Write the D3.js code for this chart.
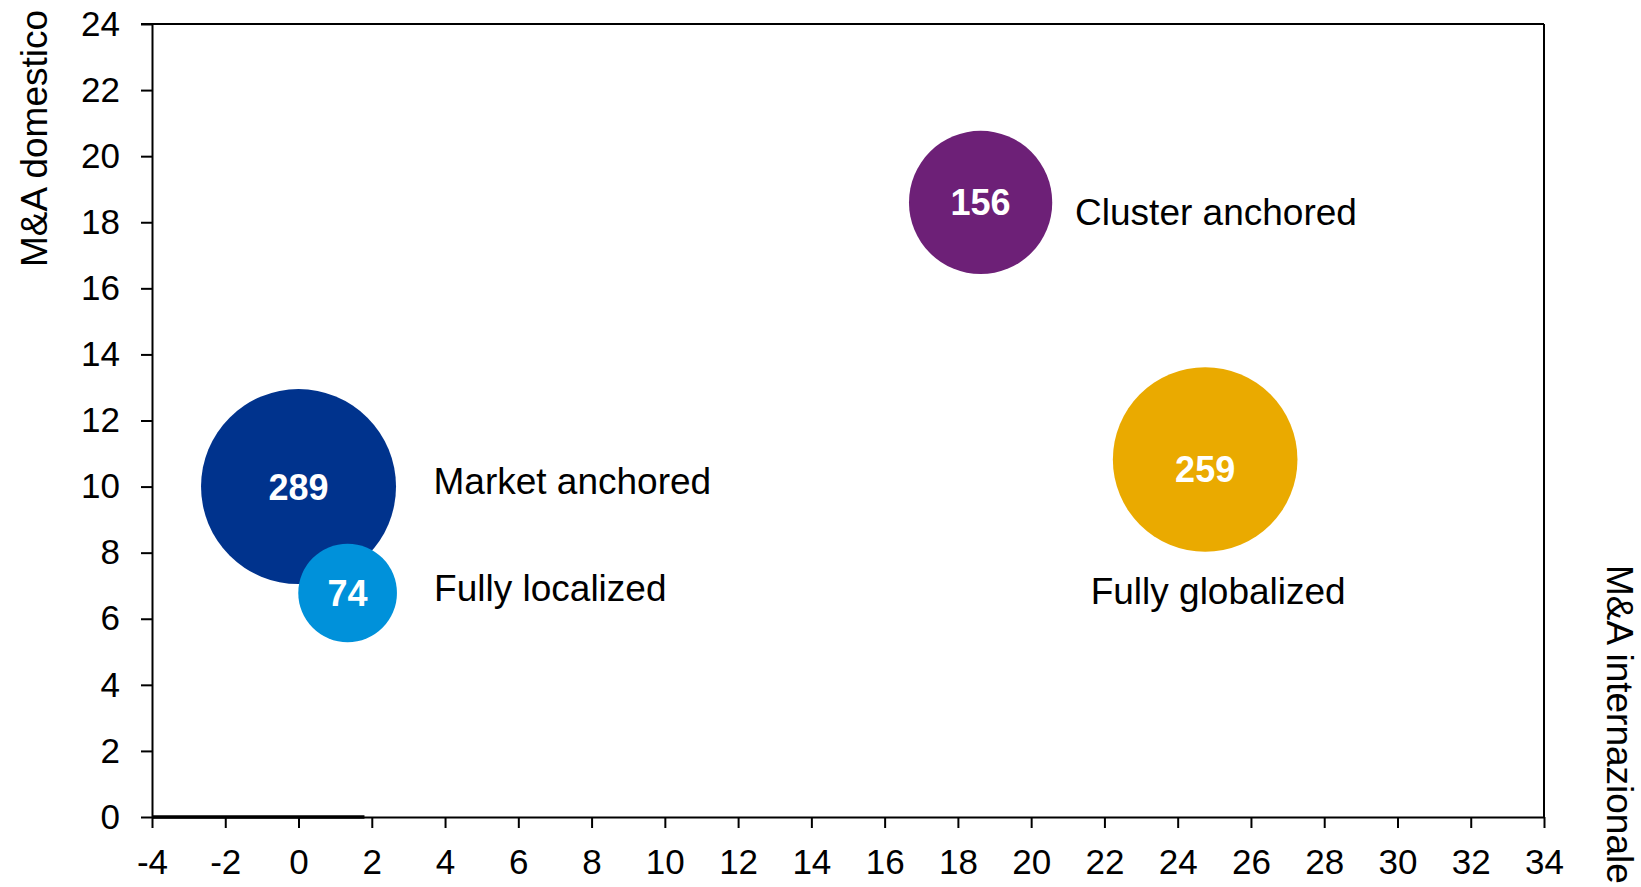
<!DOCTYPE html>
<html>
<head>
<meta charset="utf-8">
<script src="https://cdn.jsdelivr.net/npm/d3@7"></script>
<style>
  body { margin: 0; background: white; }
  text { font-family: "Liberation Sans", Arial, sans-serif; }
</style>
</head>
<body>
<div id="chart"></div>
<script>
// bubble data
const names = ["Market anchored", "Fully localized", "Cluster anchored", "Fully globalized"];
const xValues = [0, 1.34, 18.62, 24.75];
const yValues = [10, 6.78, 18.6, 10.82];
const sizes = [289, 74, 156, 259];
const colors = ["#00338D", "#0091DA", "#6D2077", "#EAAA00"];

const xTicks = [-4, -2, 0, 2, 4, 6, 8, 10, 12, 14, 16, 18, 20, 22, 24, 26, 28, 30, 32, 34];
const yTicks = [0, 2, 4, 6, 8, 10, 12, 14, 16, 18, 20, 22, 24];

// short line along the zero axis
const zeroSeries = [[-4, 0], [1.8, 0]];

const xTitle = "M&A internazionale";
const yTitle = "M&A domestico";

const width = 1641, height = 887;
const margin = { top: 24, right: 97, bottom: 70, left: 152 };
const innerW = width - margin.left - margin.right;
const innerH = height - margin.top - margin.bottom;

const svg = d3
  .select("#chart")
  .append("svg")
  .attr("width", width)
  .attr("height", height);

const g = svg.append("g").attr("transform", `translate(${margin.left},${margin.top})`);

const x = d3.scaleLinear().domain([-4, 34]).range([0, innerW]);
const y = d3.scaleLinear().domain([0, 24]).range([innerH, 0]);
const r = d3.scaleSqrt().domain([0, 289]).range([0, 97.5]);

// frame top and right
g.append("line")
  .attr("x1", -11).attr("x2", innerW)
  .attr("y1", 0).attr("y2", 0)
  .attr("stroke", "black").attr("stroke-width", 2);
g.append("line")
  .attr("x1", innerW).attr("x2", innerW)
  .attr("y1", 0).attr("y2", innerH)
  .attr("stroke", "black").attr("stroke-width", 2);

// axes
const yAxis = g.append("g")
  .call(d3.axisLeft(y).tickValues(yTicks).tickSize(11).tickSizeOuter(0).tickPadding(21).tickFormat((d) => String(d)));
const xAxis = g.append("g")
  .attr("transform", `translate(0,${innerH})`)
  .call(d3.axisBottom(x).tickValues(xTicks).tickSize(11).tickSizeOuter(0).tickPadding(21).tickFormat((d) => String(d)));

[xAxis, yAxis].forEach((a) => {
  a.select(".domain").attr("stroke-width", 2);
  a.selectAll(".tick line").attr("stroke-width", 2);
  a.selectAll(".tick text")
    .attr("fill", "black")
    .style("font-size", "35px")
    .style("font-family", "'Liberation Sans', Arial, sans-serif");
});

g.append("path")
  .datum(zeroSeries)
  .attr("fill", "none")
  .attr("stroke", "black")
  .attr("stroke-width", 3.5)
  .attr("d", d3.line().x((d) => x(d[0])).y((d) => y(d[1])));

// bubbles
const bubbles = names.map((n, i) => ({ name: n, x: xValues[i], y: yValues[i], size: sizes[i], color: colors[i] }));

g.selectAll(".bubble")
  .data(bubbles)
  .enter()
  .append("circle")
  .attr("class", "bubble")
  .attr("cx", (d) => x(d.x))
  .attr("cy", (d) => y(d.y))
  .attr("r", (d) => r(d.size))
  .attr("fill", (d) => d.color);

// the 259 label sits a little below its bubble centre
const valueShift = [0, 0, 0, 9.5];

g.selectAll(".value")
  .data(bubbles)
  .enter()
  .append("text")
  .attr("x", (d) => x(d.x))
  .attr("y", (d, i) => y(d.y) + valueShift[i])
  .attr("dy", "0.36em")
  .attr("text-anchor", "middle")
  .attr("fill", "white")
  .style("font-size", "36px")
  .style("font-weight", "bold")
  .text((d) => d.size);

// category labels, offsets in pixels from each bubble centre
const labelOffsets = [[135, 7.5], [86.5, 8.5], [94.5, 23], [-114.5, 144.6]];

g.selectAll(".name")
  .data(bubbles)
  .enter()
  .append("text")
  .attr("x", (d, i) => x(d.x) + labelOffsets[i][0])
  .attr("y", (d, i) => y(d.y) + labelOffsets[i][1])
  .attr("fill", "black")
  .style("font-size", "37px")
  .text((d) => d.name);

// axis titles
svg.append("text")
  .attr("transform", "translate(47,267) rotate(-90)")
  .attr("fill", "black")
  .style("font-size", "37px")
  .text(yTitle);

svg.append("text")
  .attr("transform", "translate(1607,565) rotate(90)")
  .attr("fill", "black")
  .style("font-size", "37px")
  .text(xTitle);
</script>
</body>
</html>
